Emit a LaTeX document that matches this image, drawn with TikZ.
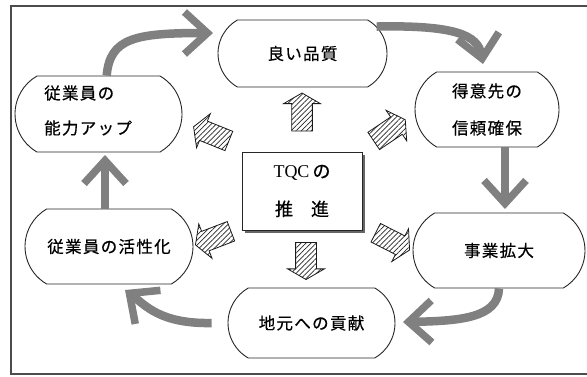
\documentclass[tikz,border=0pt]{standalone}
\usepackage{fontspec}
\setmainfont{Liberation Serif}
\newfontfamily\jp{Noto Sans CJK JP}[LetterSpace=8,FakeBold=0.5]
\usetikzlibrary{shapes.misc,shapes.arrows,arrows.meta,patterns.meta,backgrounds}
\begin{document}
\begin{tikzpicture}[x=1pt,y=-1pt,
  pill/.style={rounded rectangle, rounded rectangle arc length=120, draw=black!85, line width=0.9pt, fill=white, font=\jp\fontsize{16.5}{37}\selectfont, align=left, inner sep=0pt},
  jptext/.style={font=\jp\fontsize{16.5}{35}\selectfont, align=left, inner sep=0pt},
  garrow/.style={draw=black!50, line width=8.5pt, -{Straight Barb[length=23pt,width=42pt,line width=7.5pt]}},
  harrow/.style={single arrow, draw=black!90, line width=0.8pt, pattern={Lines[angle=45,distance=3.6pt,line width=0.7pt]}, pattern color=black!85, single arrow head extend=8pt, single arrow tip angle=120, inner sep=10pt, minimum height=38pt}]
\useasboundingbox (0,0) rectangle (587,376);
\draw[black!70, line width=1.3pt] (600,6) -- (11,6) -- (11,374) -- (600,374);

% nodes
\node[pill, minimum width=169pt, minimum height=67pt] (q) at (302.5,53.5) {良い品質};
\node[pill, minimum width=167pt, minimum height=76pt] (n) at (98.5,114) {};
\node[jptext, anchor=west] (nt) at (44,110.5) {従業員の\\能力アップ};
\node[pill, minimum width=144pt, minimum height=75pt] (t) at (487,109.5) {得意先の\\信頼確保};
\node[pill, minimum width=168pt, minimum height=75pt] (k) at (109,246.5) {従業員の活性化};
\node[pill, minimum width=172pt, minimum height=75pt] (j) at (499,250.5) {事業拡大};
\node[pill, minimum width=167pt, minimum height=70pt] (m) at (311.5,323) {地元への貢献};

\node[draw=black!85, line width=0.9pt, fill=white, minimum width=120pt, minimum height=78pt, align=center,
  font=\fontsize{18}{38}\selectfont] (tqc) at (302,191) {TQC\,{\jp の}\\{\jp 推\hspace{1em}進}};
\begin{scope}[on background layer]
\fill[black!60] ([xshift=3pt,yshift=-3pt]tqc.north west) rectangle ([xshift=3pt,yshift=-3pt]tqc.south east);
\end{scope}

% hatched arrows
\node[harrow, rotate=90] (hU) at (302,115) {};
\node[harrow, rotate=158] (hUL) at (214,135) {};
\node[harrow, rotate=34] (hUR) at (387,132) {};
\node[harrow, rotate=201] (hDL) at (216,237) {};
\node[harrow, rotate=270, minimum height=37pt] (hD) at (306,258) {};
\node[harrow, rotate=-27] (hDR) at (390,240) {};

% big gray arrows
\coordinate (a1e) at (213,33);
\coordinate (a2e) at (483,64);
\coordinate (a3e) at (505,209);
\coordinate (a4e) at (403,322);
\coordinate (a5e) at (125,290);
\coordinate (a6e) at (105,155);
\draw[garrow] (n.78) .. controls (110,38) and (135,33) .. (a1e);
\draw[garrow] (q.20) .. controls (455,25) and (478,35) .. (a2e);
\draw[garrow] (t.south -| a3e) -- (a3e);
\draw[garrow] (j.south) .. controls (498,318) and (460,321) .. (a4e);
\draw[garrow] ([xshift=-16pt]m.west) .. controls (160,324) and (145,305) .. (a5e);
\draw[garrow] (k.north -| a6e) -- (a6e);
\end{tikzpicture}
\end{document}
